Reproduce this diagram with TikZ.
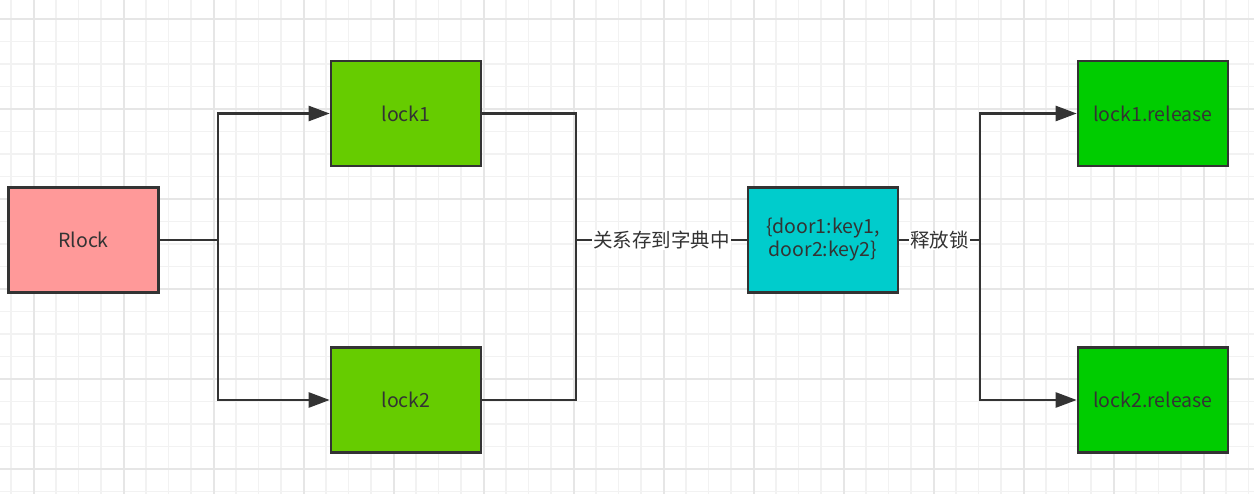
\documentclass[tikz,border=0pt]{standalone}
\usepackage{fontspec}
\setmainfont{Noto Sans CJK SC}
\usepackage{tikz}
\usetikzlibrary{arrows.meta}

\definecolor{ink}{HTML}{333333}
\definecolor{gridminor}{HTML}{F2F2F2}
\definecolor{gridmajor}{HTML}{E6E6E6}
\definecolor{rlockfill}{HTML}{FF9999}
\definecolor{lockfill}{HTML}{66CC00}
\definecolor{dictfill}{HTML}{00CCCC}
\definecolor{relfill}{HTML}{00CC00}

\begin{document}
\begin{tikzpicture}[x=1pt, y=-1pt,
    box/.style={draw=ink, line width=2.6pt, minimum width=150pt, minimum height=105pt,
                text=ink, font=\fontsize{19.5}{23}\selectfont, align=center, inner sep=2pt},
    wire/.style={draw=ink, line width=2.5pt},
    arr/.style={wire, -{Triangle[length=21pt, width=15pt]}},
    tag/.style={fill=white, text=ink, font=\fontsize{19.5}{23}\selectfont, inner sep=1pt}]
  \useasboundingbox (0,0) rectangle (1254,494);
  \fill[white] (0,0) rectangle (1254,494);
  % background grid
  \foreach \i in {0,...,55}
    \draw[gridminor, line width=1.2pt] (11+22.5*\i,0) -- (11+22.5*\i,494);
  \foreach \j in {0,...,21}
    \draw[gridminor, line width=1.2pt] (0,19+22.5*\j) -- (1254,19+22.5*\j);
  \foreach \i in {0,...,13}
    \draw[gridmajor, line width=1.2pt] (34+90*\i,0) -- (34+90*\i,494);
  \foreach \j in {0,...,5}
    \draw[gridmajor, line width=1.2pt] (0,19+90*\j) -- (1254,19+90*\j);

  % boxes
  \node[box, fill=rlockfill] (rlock) at (83.5,240) {Rlock};
  \node[box, fill=lockfill]  (lock1) at (406,113.5) {lock1};
  \node[box, fill=lockfill]  (lock2) at (406,400) {lock2};
  \node[box, fill=dictfill]  (dict)  at (823,240) {\{door1:key1,\\door2:key2\}};
  \node[box, fill=relfill]   (rel1)  at (1153,113.5) {lock1.release};
  \node[box, fill=relfill]   (rel2)  at (1153,400) {lock2.release};

  \coordinate (split) at (218,240);
  \coordinate (join)  at (576,240);
  \coordinate (fork)  at (980,240);

  % connectors
  \draw[wire] (rlock) -- (split);
  \draw[arr] (split) |- (lock1);
  \draw[arr] (split) |- (lock2);
  \draw[wire] (lock1) -| (join);
  \draw[wire] (lock2) -| (join);
  \draw[wire] (join) -- node[tag] {关系存到字典中} (dict);
  \draw[wire] (dict) -- node[tag] {释放锁} (fork);
  \draw[arr] (fork) |- (rel1);
  \draw[arr] (fork) |- (rel2);
\end{tikzpicture}
\end{document}
